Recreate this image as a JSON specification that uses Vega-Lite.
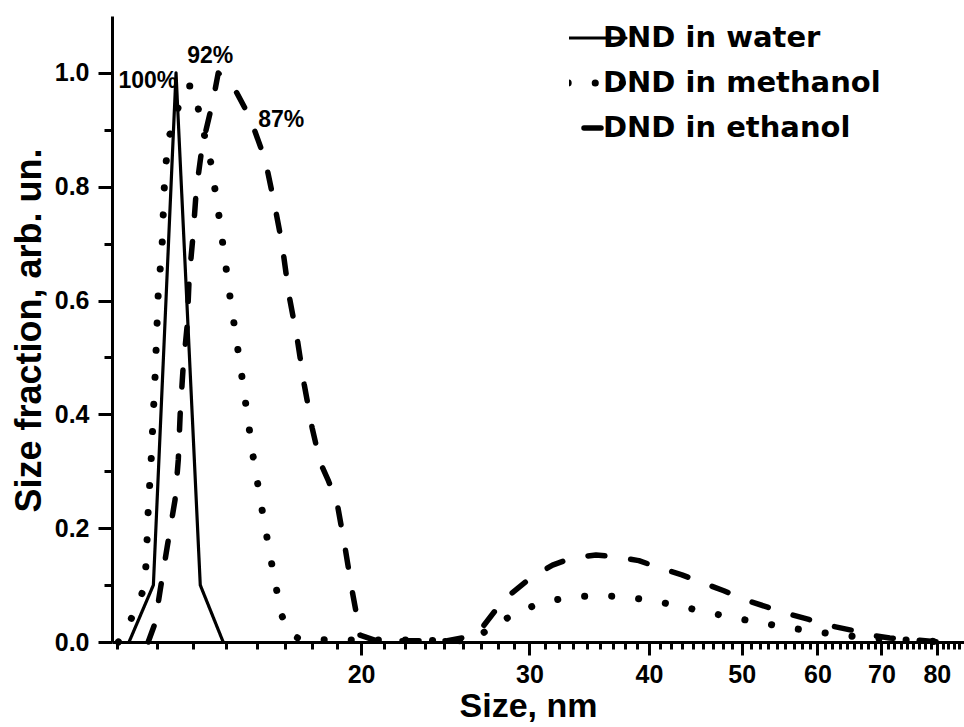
{
  "$schema": "https://vega.github.io/schema/vega-lite/v6.json",
  "width": 852,
  "height": 626,
  "autosize": {"type": "none"},
  "padding": {"left": 112, "top": 16, "right": 0, "bottom": 85},
  "background": "white",
  "config": {
    "view": {"stroke": null},
    "axis": {
      "grid": false,
      "labelColor": "#000000",
      "labelFont": "Liberation Sans",
      "labelFontWeight": "bold",
      "labelFontSize": 25,
      "titleColor": "#000000",
      "titleFont": "Liberation Sans",
      "titleFontWeight": "bold",
      "tickColor": "#000000",
      "tickWidth": 3
    }
  },
  "resolve": {"axis": {"x": "independent", "y": "independent"}},
  "layer": [
    {
      "data": {
        "values": [
          {"s": "DND in water", "x": 11.44, "y": 0},
          {"s": "DND in water", "x": 12.13, "y": 0.1},
          {"s": "DND in water", "x": 12.81, "y": 1.0},
          {"s": "DND in water", "x": 13.58, "y": 0.1},
          {"s": "DND in water", "x": 14.35, "y": 0}
        ]
      },
      "mark": {"type": "line", "color": "black", "strokeWidth": 3.2, "strokeCap": "round", "strokeJoin": "round"},
      "encoding": {
        "x": {
          "field": "x", "type": "quantitative",
          "scale": {"type": "log", "domain": [10.98, 85.4], "nice": false},
          "axis": {
            "orient": "bottom",
            "domainColor": "#000000",
            "domainWidth": 3,
            "tickColor": "#000000",
            "tickWidth": 3,
            "tickSize": 13,
            "labelPadding": 7,
            "title": "Size, nm",
            "titleFontSize": 34,
            "titleX": 416,
            "titleY": 74,
            "titleBaseline": "alphabetic",
            "titleAlign": "center",
            "values": [20, 30, 40, 50, 60, 70, 80],
            "format": "d",
            "labelOverlap": false,
            "labelFlush": false
          }
        },
        "y": {
          "field": "y", "type": "quantitative",
          "scale": {"domain": [0, 1.1], "nice": false},
          "axis": {
            "orient": "left",
            "domainColor": "#000000",
            "domainWidth": 3,
            "tickColor": "#000000",
            "tickWidth": 3,
            "tickSize": 14,
            "labelPadding": 9,
            "title": "Size fraction, arb. un.",
            "titleFontSize": 36,
            "titleX": -72,
            "titleY": 314,
            "titleAngle": 270,
            "titleBaseline": "alphabetic",
            "titleAlign": "center",
            "values": [0, 0.2, 0.4, 0.6, 0.8, 1.0],
            "format": ".1f",
            "labelOverlap": false,
            "labelFlush": false
          }
        },
        "strokeDash": {
          "field": "s", "type": "nominal",
          "scale": {"domain": ["DND in water", "DND in methanol", "DND in ethanol"], "range": [[1, 0], [0.1, 27], [17, 26]]},
          "legend": {
            "title": null,
            "orient": "none",
            "legendX": 457,
            "legendY": 7,
            "symbolType": "stroke",
            "symbolSize": 7225,
            "symbolStrokeColor": "black",
            "labelFont": "DejaVu Sans",
            "labelFontWeight": "bold",
            "labelFontSize": 29,
            "labelColor": "black",
            "labelLimit": 500,
            "labelOffset": 5,
            "padding": 0,
            "clipHeight": 30,
            "rowPadding": 15,
            "encode": {
              "symbols": {
                "update": {
                  "strokeCap": {"value": "round"},
                  "strokeWidth": {"signal": "datum.value === 'DND in water' ? 3.2 : (datum.value === 'DND in methanol' ? 7 : 5.5)"}
                }
              }
            }
          }
        }
      }
    },
    {
      "data": {
        "values": [
          {"s": "DND in methanol", "x": 11.15, "y": 0},
          {"s": "DND in methanol", "x": 11.25, "y": 0.007},
          {"s": "DND in methanol", "x": 11.56, "y": 0.049},
          {"s": "DND in methanol", "x": 11.84, "y": 0.091},
          {"s": "DND in methanol", "x": 11.92, "y": 0.137},
          {"s": "DND in methanol", "x": 11.98, "y": 0.232},
          {"s": "DND in methanol", "x": 12.07, "y": 0.325},
          {"s": "DND in methanol", "x": 12.18, "y": 0.467},
          {"s": "DND in methanol", "x": 12.27, "y": 0.608},
          {"s": "DND in methanol", "x": 12.39, "y": 0.701},
          {"s": "DND in methanol", "x": 12.45, "y": 0.796},
          {"s": "DND in methanol", "x": 12.51, "y": 0.844},
          {"s": "DND in methanol", "x": 12.60, "y": 0.888},
          {"s": "DND in methanol", "x": 12.85, "y": 0.935},
          {"s": "DND in methanol", "x": 13.13, "y": 0.977},
          {"s": "DND in methanol", "x": 13.35, "y": 0.977},
          {"s": "DND in methanol", "x": 13.54, "y": 0.931},
          {"s": "DND in methanol", "x": 13.94, "y": 0.840},
          {"s": "DND in methanol", "x": 14.21, "y": 0.747},
          {"s": "DND in methanol", "x": 14.59, "y": 0.606},
          {"s": "DND in methanol", "x": 15.01, "y": 0.467},
          {"s": "DND in methanol", "x": 15.42, "y": 0.327},
          {"s": "DND in methanol", "x": 15.76, "y": 0.232},
          {"s": "DND in methanol", "x": 16.11, "y": 0.142},
          {"s": "DND in methanol", "x": 16.50, "y": 0.049},
          {"s": "DND in methanol", "x": 16.86, "y": 0.014},
          {"s": "DND in methanol", "x": 17.27, "y": 0.005},
          {"s": "DND in methanol", "x": 18.56, "y": 0.0035},
          {"s": "DND in methanol", "x": 21.97, "y": 0.0035},
          {"s": "DND in methanol", "x": 26.06, "y": 0.002},
          {"s": "DND in methanol", "x": 27.68, "y": 0.031},
          {"s": "DND in methanol", "x": 29.39, "y": 0.0555},
          {"s": "DND in methanol", "x": 31.34, "y": 0.072},
          {"s": "DND in methanol", "x": 33.37, "y": 0.079},
          {"s": "DND in methanol", "x": 35.58, "y": 0.082},
          {"s": "DND in methanol", "x": 37.93, "y": 0.0787},
          {"s": "DND in methanol", "x": 40.43, "y": 0.0726},
          {"s": "DND in methanol", "x": 43.04, "y": 0.063},
          {"s": "DND in methanol", "x": 45.87, "y": 0.053},
          {"s": "DND in methanol", "x": 48.83, "y": 0.043},
          {"s": "DND in methanol", "x": 51.98, "y": 0.035},
          {"s": "DND in methanol", "x": 55.47, "y": 0.026},
          {"s": "DND in methanol", "x": 59.06, "y": 0.0195},
          {"s": "DND in methanol", "x": 63.02, "y": 0.0128},
          {"s": "DND in methanol", "x": 67.09, "y": 0.008},
          {"s": "DND in methanol", "x": 71.42, "y": 0.005},
          {"s": "DND in methanol", "x": 76.77, "y": 0.002},
          {"s": "DND in methanol", "x": 82.51, "y": 0}
        ]
      },
      "mark": {"type": "line", "color": "black", "strokeWidth": 7, "strokeCap": "round", "strokeJoin": "round"},
      "encoding": {
        "x": {"field": "x", "type": "quantitative", "scale": {"type": "log", "domain": [10.98, 85.4], "nice": false}, "axis": null},
        "y": {"field": "y", "type": "quantitative", "scale": {"domain": [0, 1.1], "nice": false}, "axis": null},
        "strokeDash": {"field": "s", "type": "nominal"}
      }
    },
    {
      "data": {
        "values": [
          {"s": "DND in ethanol", "x": 11.98, "y": 0},
          {"s": "DND in ethanol", "x": 12.18, "y": 0.033},
          {"s": "DND in ethanol", "x": 12.33, "y": 0.091},
          {"s": "DND in ethanol", "x": 12.54, "y": 0.167},
          {"s": "DND in ethanol", "x": 12.78, "y": 0.250},
          {"s": "DND in ethanol", "x": 12.88, "y": 0.320},
          {"s": "DND in ethanol", "x": 12.94, "y": 0.402},
          {"s": "DND in ethanol", "x": 13.03, "y": 0.482},
          {"s": "DND in ethanol", "x": 13.16, "y": 0.557},
          {"s": "DND in ethanol", "x": 13.22, "y": 0.638},
          {"s": "DND in ethanol", "x": 13.35, "y": 0.717},
          {"s": "DND in ethanol", "x": 13.45, "y": 0.794},
          {"s": "DND in ethanol", "x": 13.64, "y": 0.870},
          {"s": "DND in ethanol", "x": 14.01, "y": 0.953},
          {"s": "DND in ethanol", "x": 14.18, "y": 1.0},
          {"s": "DND in ethanol", "x": 14.73, "y": 0.974},
          {"s": "DND in ethanol", "x": 15.31, "y": 0.921},
          {"s": "DND in ethanol", "x": 15.88, "y": 0.847},
          {"s": "DND in ethanol", "x": 16.26, "y": 0.764},
          {"s": "DND in ethanol", "x": 16.54, "y": 0.698},
          {"s": "DND in ethanol", "x": 16.82, "y": 0.608},
          {"s": "DND in ethanol", "x": 17.15, "y": 0.533},
          {"s": "DND in ethanol", "x": 17.44, "y": 0.453},
          {"s": "DND in ethanol", "x": 17.78, "y": 0.376},
          {"s": "DND in ethanol", "x": 18.12, "y": 0.316},
          {"s": "DND in ethanol", "x": 18.47, "y": 0.285},
          {"s": "DND in ethanol", "x": 18.88, "y": 0.244},
          {"s": "DND in ethanol", "x": 19.24, "y": 0.167},
          {"s": "DND in ethanol", "x": 19.57, "y": 0.091},
          {"s": "DND in ethanol", "x": 19.76, "y": 0.053},
          {"s": "DND in ethanol", "x": 19.95, "y": 0.012},
          {"s": "DND in ethanol", "x": 20.78, "y": 0.002},
          {"s": "DND in ethanol", "x": 24.54, "y": 0.002},
          {"s": "DND in ethanol", "x": 25.69, "y": 0.008},
          {"s": "DND in ethanol", "x": 26.79, "y": 0.026},
          {"s": "DND in ethanol", "x": 27.65, "y": 0.056},
          {"s": "DND in ethanol", "x": 28.76, "y": 0.086},
          {"s": "DND in ethanol", "x": 30.04, "y": 0.112},
          {"s": "DND in ethanol", "x": 31.71, "y": 0.135},
          {"s": "DND in ethanol", "x": 33.29, "y": 0.148},
          {"s": "DND in ethanol", "x": 35.21, "y": 0.153},
          {"s": "DND in ethanol", "x": 37.12, "y": 0.149},
          {"s": "DND in ethanol", "x": 39.04, "y": 0.143},
          {"s": "DND in ethanol", "x": 41.07, "y": 0.130},
          {"s": "DND in ethanol", "x": 43.30, "y": 0.118},
          {"s": "DND in ethanol", "x": 45.54, "y": 0.104},
          {"s": "DND in ethanol", "x": 47.90, "y": 0.090},
          {"s": "DND in ethanol", "x": 50.26, "y": 0.075},
          {"s": "DND in ethanol", "x": 53.12, "y": 0.0616},
          {"s": "DND in ethanol", "x": 55.61, "y": 0.0506},
          {"s": "DND in ethanol", "x": 58.77, "y": 0.0397},
          {"s": "DND in ethanol", "x": 61.74, "y": 0.029},
          {"s": "DND in ethanol", "x": 65.49, "y": 0.020},
          {"s": "DND in ethanol", "x": 68.81, "y": 0.011},
          {"s": "DND in ethanol", "x": 71.42, "y": 0.007},
          {"s": "DND in ethanol", "x": 76.77, "y": 0.003},
          {"s": "DND in ethanol", "x": 80.55, "y": 0}
        ]
      },
      "mark": {"type": "line", "color": "black", "strokeWidth": 5.5, "strokeCap": "round", "strokeJoin": "round"},
      "encoding": {
        "x": {"field": "x", "type": "quantitative", "scale": {"type": "log", "domain": [10.98, 85.4], "nice": false}, "axis": null},
        "y": {"field": "y", "type": "quantitative", "scale": {"domain": [0, 1.1], "nice": false}, "axis": null},
        "strokeDash": {"field": "s", "type": "nominal"}
      }
    },
    {
      "data": {
        "values": [
          {"label": "100%", "x": 11.15, "y": 0.974},
          {"label": "92%", "x": 13.16, "y": 1.017},
          {"label": "87%", "x": 15.61, "y": 0.905}
        ]
      },
      "mark": {"type": "text", "font": "Liberation Sans", "fontWeight": "bold", "fontSize": 23, "align": "left", "baseline": "alphabetic", "color": "black"},
      "encoding": {
        "x": {
          "field": "x", "type": "quantitative",
          "scale": {"type": "log", "domain": [10.98, 85.4], "nice": false},
          "axis": {
            "orient": "bottom",
            "title": null,
            "domain": false,
            "labels": false,
            "tickColor": "#000000",
            "tickWidth": 3,
            "tickSize": 7,
            "values": [11.111,12.222,13.333,14.444,15.556,16.667,17.778,18.889,21.111,22.222,23.333,24.444,25.556,26.667,27.778,28.889,31.111,32.222,33.333,34.444,35.556,36.667,37.778,38.889,41.111,42.222,43.333,44.444,45.556,46.667,47.778,48.889,51.111,52.222,53.333,54.444,55.556,56.667,57.778,58.889,61.111,62.222,63.333,64.444,65.556,66.667,67.778,68.889,71.111,72.222,73.333,74.444,75.556,76.667,77.778,78.889,81.111,82.222,83.333,84.444]
          }
        },
        "y": {
          "field": "y", "type": "quantitative",
          "scale": {"domain": [0, 1.1], "nice": false},
          "axis": {
            "orient": "left",
            "title": null,
            "domain": false,
            "labels": false,
            "tickColor": "#000000",
            "tickWidth": 3,
            "tickSize": 8,
            "values": [0.1, 0.3, 0.5, 0.7, 0.9]
          }
        },
        "text": {"field": "label"}
      }
    }
  ]
}
